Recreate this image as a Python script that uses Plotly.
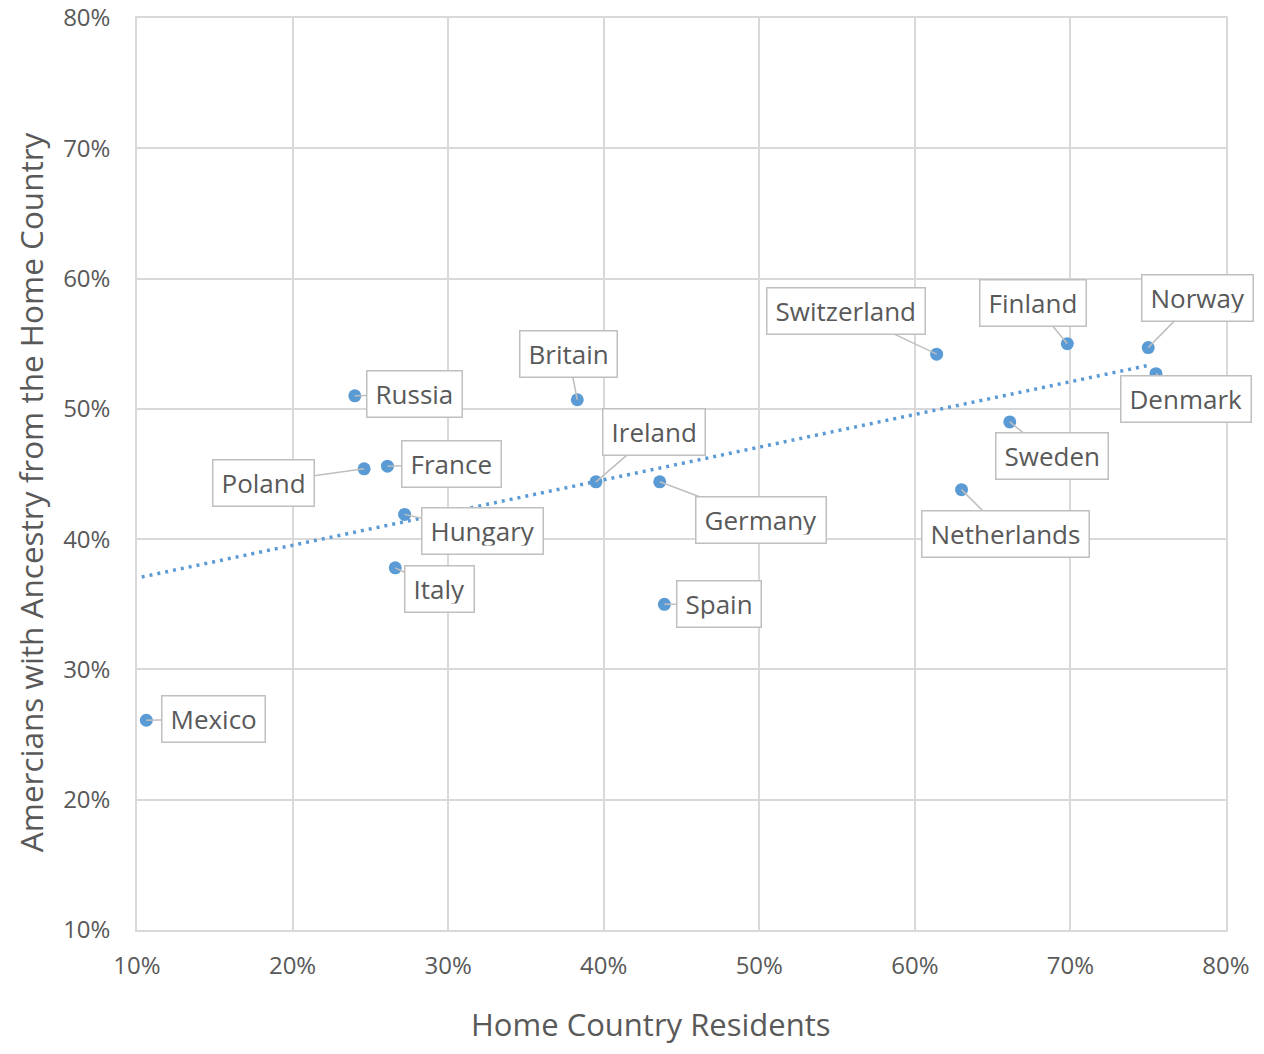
import numpy as np
import plotly.graph_objects as go

# ---- data ----
countries = ["Mexico", "Russia", "Poland", "France", "Hungary", "Italy", "Britain",
             "Ireland", "Germany", "Spain", "Switzerland", "Netherlands", "Sweden",
             "Finland", "Norway", "Denmark"]
home_residents = [0.106, 0.240, 0.246, 0.261, 0.272, 0.266, 0.383,
                  0.395, 0.436, 0.439, 0.614, 0.630, 0.661,
                  0.698, 0.750, 0.755]
us_ancestry = [0.261, 0.510, 0.454, 0.456, 0.419, 0.378, 0.507,
               0.444, 0.444, 0.350, 0.542, 0.438, 0.490,
               0.550, 0.547, 0.527]
tick_vals = [0.1, 0.2, 0.3, 0.4, 0.5, 0.6, 0.7, 0.8]
x_title = "Home Country Residents"
y_title = "Amercians with Ancestry from the Home Country"

# ---- label placement (pixel offsets of label box centre from point) ----
label_offsets = {
    "Mexico": (67, -1), "Russia": (60, -2), "Poland": (-101, 14), "France": (64, -2),
    "Hungary": (78, 17), "Italy": (44, 21), "Britain": (-9, -46), "Ireland": (58, -50),
    "Germany": (101, 38), "Spain": (55, 0), "Switzerland": (-91, -43),
    "Netherlands": (44, 44), "Sweden": (42, 34), "Finland": (-34, -41),
    "Norway": (49, -50), "Denmark": (30, 25),
}

BLUE = "#5b9bd5"
TXT = "#595959"
GRID = "#d9d9d9"
FONT = "Open Sans"

# trendline (linear least squares, as in the original chart)
slope, intercept = np.polyfit(home_residents, us_ancestry, 1)
tx = np.array([min(home_residents) - 0.003, max(home_residents) - 0.004])
ty = slope * tx + intercept

fig = go.Figure()
fig.add_trace(go.Scatter(x=tx, y=ty, mode="lines",
                         line=dict(color=BLUE, width=3.5, dash="3px,5px"),
                         hoverinfo="skip", showlegend=False))
fig.add_trace(go.Scatter(x=home_residents, y=us_ancestry, mode="markers",
                         marker=dict(color=BLUE, size=13),
                         text=countries, showlegend=False))

for c, xv, yv in zip(countries, home_residents, us_ancestry):
    ax, ay = label_offsets[c]
    fig.add_annotation(x=xv, y=yv, text=c, showarrow=True, arrowhead=0,
                       arrowwidth=1.5, arrowcolor="#bfbfbf", ax=ax, ay=ay,
                       standoff=0, bgcolor="white", bordercolor="#bfbfbf",
                       borderwidth=1.5, borderpad=8, height=29,
                       font=dict(family=FONT, size=26, color=TXT))

# axis titles (placed as in the original, slightly off-centre)
fig.add_annotation(text=x_title, xref="paper", yref="paper", x=0.472, y=-0.103,
                   xanchor="center", yanchor="middle", showarrow=False,
                   font=dict(family=FONT, size=31, color=TXT))
fig.add_annotation(text=y_title, xref="paper", yref="paper", x=-0.0983, y=0.480,
                   xanchor="center", yanchor="middle", showarrow=False, textangle=-90,
                   font=dict(family=FONT, size=31.5, color=TXT))

axis_common = dict(range=[0.1, 0.8], tickvals=tick_vals, tickformat=".0%",
                   showgrid=True, gridcolor=GRID, gridwidth=1.5,
                   showline=True, linecolor=GRID, linewidth=1.5, mirror=True,
                   zeroline=False, ticks="outside", tickcolor="rgba(0,0,0,0)",
                   automargin=False, ticklabeloverflow="allow",
                   tickfont=dict(family=FONT, size=24, color=TXT))

fig.update_layout(
    width=1264, height=1054,
    margin=dict(l=137, r=38, t=18, b=124),
    paper_bgcolor="white", plot_bgcolor="white",
    xaxis=dict(axis_common, ticklen=13),
    yaxis=dict(axis_common, ticklen=20),
)

fig.write_html("out.html", config={"displayModeBar": False},
               post_script="document.body.style.margin='0';")
